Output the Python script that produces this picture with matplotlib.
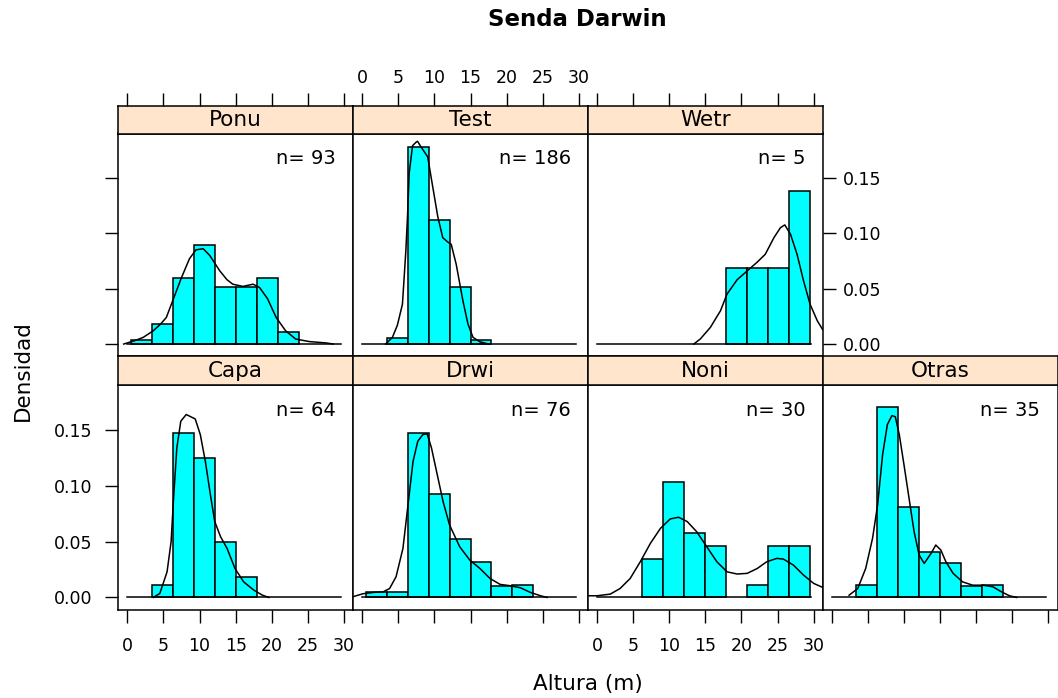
import numpy as np
import matplotlib.pyplot as plt

# grupos y tamaño de muestra
groups = ['Ponu', 'Test', 'Wetr', 'Capa', 'Drwi', 'Noni', 'Otras']
n_obs = [93, 186, 5, 64, 76, 30, 35]

# cortes del histograma (comunes a todos los paneles)
breaks = [0.5, 3.4, 6.3, 9.2, 12.1, 15.0, 17.9, 20.8, 23.7, 26.6, 29.5]

# densidad de cada barra
dens_ponu = [0.0037, 0.0185, 0.0593, 0.0890, 0.0519, 0.0519, 0.0593, 0.0111, 0, 0]
dens_test = [0, 0.0054, 0.1778, 0.1121, 0.0518, 0.0036, 0, 0, 0, 0]
dens_wetr = [0, 0, 0, 0, 0, 0, 0.069, 0.069, 0.069, 0.138]
dens_capa = [0, 0.011, 0.147, 0.125, 0.050, 0.018, 0, 0, 0, 0]
dens_drwi = [0.005, 0.0045, 0.147, 0.093, 0.052, 0.032, 0.010, 0.011, 0, 0]
dens_noni = [0, 0, 0.0345, 0.1034, 0.0575, 0.046, 0, 0.0115, 0.046, 0.046]
dens_otras = [0, 0.011, 0.1707, 0.0808, 0.041, 0.0305, 0.0102, 0.011, 0, 0]

# curvas de densidad
kx_ponu = [-0.5, 1.0, 2.2, 3.6, 4.6, 5.4, 6.1, 6.8, 7.5, 8.6, 9.5, 10.5, 11.4, 12.8,
           13.8, 14.6, 16.0, 17.4, 18.3, 19.4, 20.6, 21.9, 23.3, 25.2, 27.5, 28.5]
ky_ponu = [0, 0.003, 0.006, 0.012, 0.018, 0.024, 0.036, 0.048, 0.060, 0.077, 0.085, 0.086,
           0.080, 0.066, 0.058, 0.054, 0.052, 0.054, 0.051, 0.041, 0.024, 0.012, 0.0045,
           0.0022, 0.001, 0.0]
kx_test = [3.26, 4.19, 4.88, 5.58, 6.05, 6.28, 6.51, 6.98, 7.44, 7.67, 8.14, 9.07, 9.77,
           10.47, 11.16, 11.86, 12.33, 13.02, 13.95, 14.65, 15.35, 16.3, 17.5]
ky_test = [0, 0.006, 0.017, 0.036, 0.084, 0.115, 0.154, 0.179, 0.182, 0.183, 0.178, 0.169,
           0.142, 0.115, 0.096, 0.092, 0.090, 0.072, 0.039, 0.018, 0.006, 0.002, 0]
kx_wetr = [13.4, 14.3, 15.7, 17.1, 18.0, 19.4, 20.8, 22.2, 23.3, 24.5, 25.4, 26.0, 26.8,
           27.7, 28.6, 29.5, 30.5, 31.25]
ky_wetr = [0, 0.0045, 0.015, 0.030, 0.045, 0.058, 0.066, 0.074, 0.081, 0.096, 0.105,
           0.1075, 0.099, 0.081, 0.057, 0.036, 0.021, 0.013]
kx_capa = [3.6, 4.5, 5.5, 6.06, 6.4, 6.85, 7.4, 8.15, 9.4, 10.1, 10.8, 11.5, 12.1, 12.9,
           13.8, 14.9, 16.1, 17.5, 18.7, 19.6]
ky_capa = [0, 0.0036, 0.023, 0.050, 0.089, 0.134, 0.158, 0.164, 0.160, 0.146, 0.122, 0.092,
           0.068, 0.0545, 0.044, 0.026, 0.014, 0.0066, 0.002, 0]
kx_drwi = [-1.3, 0.1, 1.5, 2.9, 3.8, 4.7, 5.65, 6.35, 7.05, 7.7, 8.4, 9.0, 9.6, 10.3, 11.2,
           12.1, 13.5, 14.9, 16.3, 17.7, 19.1, 20.5, 21.9, 23.3, 24.7, 25.6]
ky_drwi = [0.0006, 0.0033, 0.0045, 0.005, 0.008, 0.0186, 0.044, 0.083, 0.122, 0.140, 0.146,
           0.1467, 0.134, 0.113, 0.086, 0.065, 0.0455, 0.0335, 0.026, 0.017, 0.0117, 0.0105,
           0.0087, 0.0045, 0.0015, 0]
kx_noni = [-1.4, 0, 1.85, 3.2, 4.6, 6.0, 7.4, 8.8, 10.15, 11.3, 12.5, 13.8, 15.2, 16.6,
           18.0, 19.4, 20.8, 22.2, 23.5, 24.9, 25.8, 27.2, 28.6, 30.0, 31.25]
ky_noni = [0.0015, 0.0015, 0.003, 0.008, 0.017, 0.032, 0.0485, 0.062, 0.0704, 0.0719, 0.068,
           0.059, 0.0455, 0.032, 0.023, 0.021, 0.0216, 0.026, 0.032, 0.035, 0.0344, 0.029,
           0.020, 0.0126, 0.009]
kx_otras = [2.4, 3.6, 4.7, 5.65, 6.35, 7.04, 7.7, 8.33, 8.8, 9.35, 10.0, 10.7, 11.4, 12.1,
            12.8, 13.75, 14.4, 15.1, 15.8, 16.8, 18.1, 19.5, 20.9, 22.3, 23.5, 24.6, 25.6]
ky_otras = [0.002, 0.008, 0.026, 0.053, 0.083, 0.128, 0.155, 0.163, 0.162, 0.146, 0.119,
            0.089, 0.059, 0.038, 0.0305, 0.0395, 0.047, 0.0425, 0.032, 0.0216, 0.014, 0.011,
            0.011, 0.0096, 0.005, 0.0015, 0]

x_ticks = [0, 5, 10, 15, 20, 25, 30]
y_ticks = [0, 0.05, 0.10, 0.15]
y_ticklabels = ['0.00', '0.05', '0.10', '0.15']

dens_all = [dens_ponu, dens_test, dens_wetr, dens_capa, dens_drwi, dens_noni, dens_otras]
curves = [(kx_ponu, ky_ponu), (kx_test, ky_test), (kx_wetr, ky_wetr), (kx_capa, ky_capa),
          (kx_drwi, ky_drwi), (kx_noni, ky_noni), (kx_otras, ky_otras)]
slots = [(0, 0), (0, 1), (0, 2), (1, 0), (1, 1), (1, 2), (1, 3)]

W, H = 1058, 698
fig = plt.figure(figsize=(W / 100, H / 100), dpi=100)

col_left = [118.3, 353.1, 587.9, 822.7]
col_w = 234.8
# (arriba de la tira, arriba del panel, abajo del panel) en píxeles
row_px = [(105.5, 133.5, 356.0), (356.0, 385.5, 609.5)]
xlim = (-1.25, 31.25)
ylim = (-0.0108, 0.190)
tick_len = 9.4
edge = np.diff(breaks)


def px_axes(x0, y0, x1, y1):
    return fig.add_axes([x0 / W, 1 - y1 / H, (x1 - x0) / W, (y1 - y0) / H])


for name, n, dens, (cx, cy), (r, c) in zip(groups, n_obs, dens_all, curves, slots):
    s_top, p_top, p_bot = row_px[r]
    left = col_left[c]

    # panel
    ax = px_axes(left, p_top, left + col_w, p_bot)
    ax.set_xlim(xlim)
    ax.set_ylim(ylim)
    d = np.array(dens)
    keep = d > 0
    ax.bar(np.array(breaks[:-1])[keep], d[keep], width=edge[keep], align='edge',
           color='#00FFFF', edgecolor='black', linewidth=1.1, zorder=2)
    ax.plot([0, 29.6], [0, 0], color='black', lw=1.1, zorder=3)
    ax.plot(cx, cy, color='black', lw=1.1, zorder=4)
    ax.text(0.927, 0.888, 'n= %d' % n, transform=ax.transAxes, ha='right', va='center',
            fontsize=14)
    ax.set_xticks(x_ticks)
    ax.set_yticks(y_ticks)
    ax.set_yticklabels(y_ticklabels)
    ax.tick_params(direction='out', length=tick_len, width=1, labelsize=12.5, top=False,
                   bottom=(r == 1), labelbottom=(r == 1 and c in (0, 2)),
                   left=(c == 0), labelleft=(r == 1 and c == 0),
                   right=(name in ('Wetr', 'Otras')), labelright=(name == 'Wetr'))
    ax.tick_params(axis='x', pad=10.5)
    ax.tick_params(axis='y', which='both', pad=9)
    if name == 'Wetr':
        ax.tick_params(axis='y', pad=5)
    for sp in ax.spines.values():
        sp.set_linewidth(1.1)

    # tira con el nombre
    st = px_axes(left, s_top, left + col_w, p_top)
    st.set_facecolor('#FFE5CC')
    st.set_xlim(xlim)
    st.set_yticks([])
    st.set_xticks(x_ticks)
    st.tick_params(axis='x', direction='out', length=tick_len, width=1, labelsize=12.5,
                   bottom=False, labelbottom=False, top=(r == 0),
                   labeltop=(name == 'Test'), pad=4)
    for sp in st.spines.values():
        sp.set_linewidth(1.1)
    st.text(0.5, 0.5, name, transform=st.transAxes, ha='center', va='center', fontsize=15.5)

fig.text(577.5 / W, 1 - 20 / H, 'Senda Darwin', ha='center', va='center', fontsize=16.5,
         fontweight='bold')
fig.text(587.5 / W, 1 - 684 / H, 'Altura (m)', ha='center', va='center', fontsize=15.5)
fig.text(23 / W, 1 - 371 / H, 'Densidad', ha='center', va='center', fontsize=15.5,
         rotation=90)

fig.savefig('out.png', dpi=100)
